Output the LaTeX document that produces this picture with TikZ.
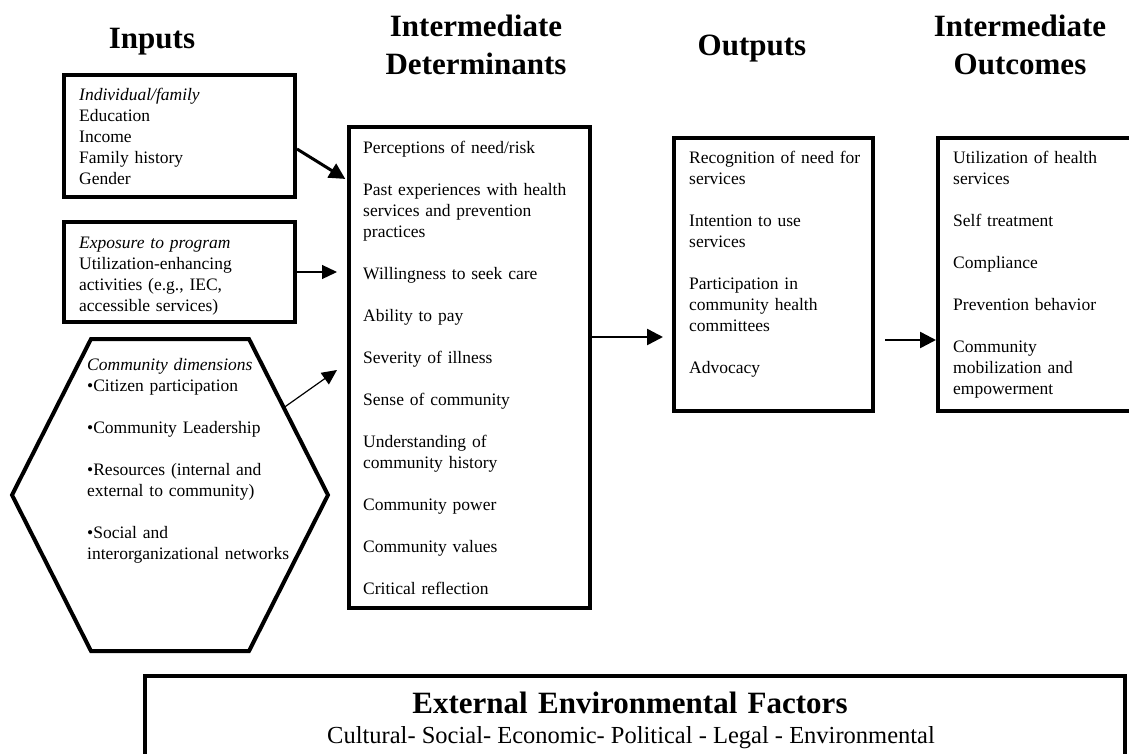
\documentclass[tikz,border=0pt]{standalone}
\usepackage{fontspec}
\setmainfont{Liberation Serif}
\usetikzlibrary{arrows.meta,calc}

\begin{document}
\begin{tikzpicture}[x=1pt,y=-1pt]

      \tikzset{boxed/.style={draw, line width=4pt, inner sep=0pt, anchor=north west},
               txt/.style={inner sep=0pt, anchor=base west, align=left, text width=#1, font=\fontsize{17.5}{21}\selectfont},
               head/.style={inner sep=0pt, anchor=base, align=center, text width=300pt, font=\fontsize{31}{38}\selectfont\bfseries},
               bigarrow/.style={line width=3pt, -{Triangle[length=16pt,width=16pt]}},
               thinarrow/.style={line width=1.2pt, -{Triangle[length=15pt,width=14pt]}}}
      \useasboundingbox (0,0) rectangle (1129,753);
      \clip (0,0) rectangle (1129,753);
%% Headings
      	\node[head] (hinp) at (152,48) {Inputs};
      	\node[head] (hdet) at (476,36) {Intermediate\\Determinants};
      	\node[head] (hout) at (752,55) {Outputs};
      	\node[head] (hoc) at (1020,36) {Intermediate\\Outcomes};
%% Boxes
      	\node[boxed, minimum width=231pt, minimum height=122pt] (inp1) at (62,73) {};
      	\node[boxed, minimum width=231pt, minimum height=100pt] (inp2) at (62,220) {};
      	\node[boxed, minimum width=241pt, minimum height=481pt] (det) at (347,125) {};
      	\node[boxed, minimum width=199pt, minimum height=273pt] (outp) at (672,136) {};
      	\node[boxed, minimum width=230pt, minimum height=273pt] (outc) at (936,136) {};
      	\node[boxed, line width=3.5pt, minimum width=980pt, minimum height=120pt] (env) at (143,674) {};
%% Hexagon
      	\coordinate (hNW) at (91,339);
      	\coordinate (hNE) at (249,339);
      	\coordinate (hE) at (328,495);
      	\coordinate (hSE) at (249,651);
      	\coordinate (hSW) at (91,651);
      	\coordinate (hW) at (12,495);
      	\draw[line width=4pt] (hNW) -- (hNE) -- (hE) -- (hSE) -- (hSW) -- (hW) -- cycle;
      	\coordinate (hport) at ($(hNE)!0.44!(hE)$);
%% Texts
      	\node[txt=200pt] (inp1txt) at (79,100) {\textit{Individual/family}\\Education\\Income\\Family history\\Gender};
      	\node[txt=200pt] (inp2txt) at (79,248) {\textit{Exposure to program}\\Utilization-enhancing\\activities (e.g., IEC,\\accessible services)};
      	\node[txt=240pt] (hextxt) at (87,370) {\textit{Community dimensions}\\•Citizen participation\\[21pt]•Community Leadership\\[21pt]•Resources (internal and\\external to community)\\[21pt]•Social and\\interorganizational networks};
      	\node[txt=220pt] (dettxt) at (363,153) {Perceptions of need/risk\\[21pt]Past experiences with health\\services and prevention\\practices\\[21pt]Willingness to seek care\\[21pt]Ability to pay\\[21pt]Severity of illness\\[21pt]Sense of community\\[21pt]Understanding of\\community history\\[21pt]Community power\\[21pt]Community values\\[21pt]Critical reflection};
      	\node[txt=180pt] (outptxt) at (689,163) {Recognition of need for\\services\\[21pt]Intention to use\\services\\[21pt]Participation in\\community health\\committees\\[21pt]Advocacy};
      	\node[txt=180pt] (outctxt) at (953,163) {Utilization of health\\services\\[21pt]Self treatment\\[21pt]Compliance\\[21pt]Prevention behavior\\[21pt]Community\\mobilization and\\empowerment};
      	\node[head, text width=900pt] (envtitle) at (630,713) {External Environmental Factors};
      	\node[inner sep=0pt, anchor=base, font=\fontsize{24.5}{29}\selectfont] (envsub) at (631,743) {Cultural- Social- Economic- Political - Legal - Environmental};
%Arrows
		\draw[bigarrow, shorten >=2pt] (inp1.east |- 0,149) -- (det.west |- 0,180);
		\draw[thinarrow, shorten >=10pt] (inp2.east) -- (det.west |- inp2.east);
		\draw[thinarrow] (hport) -- ($(det.west |- 0,370)+(-10,0)$);
		\draw[bigarrow, line width=2.5pt, shorten >=9pt] (det.east |- 0,337) -- (outp.west |- 0,337);
		\draw[bigarrow, line width=2.5pt, shorten <=10pt] (outp.east |- 0,340) -- (outc.west |- 0,340);

	\end{tikzpicture}
\end{document}
